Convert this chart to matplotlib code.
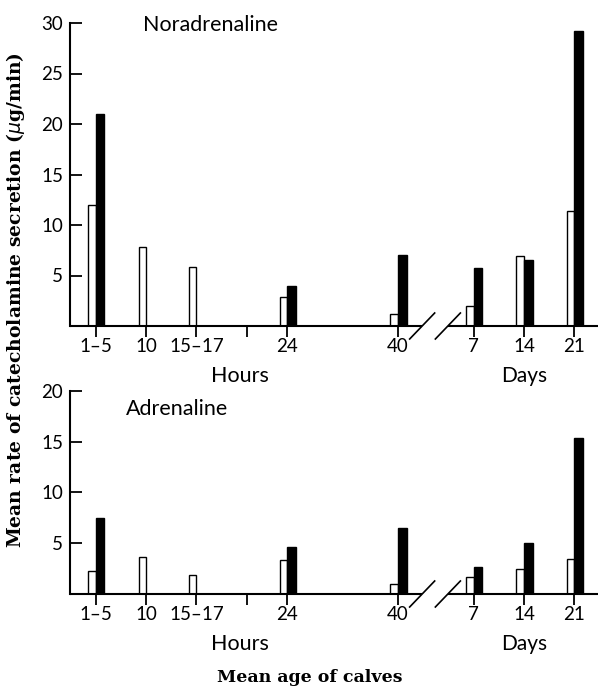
import numpy as np
import matplotlib
matplotlib.use("Agg")
import matplotlib.pyplot as plt

# %% data
age_labels = ["1–5", "10", "15–17", "", "24", "40", "7", "14", "21"]
# slot of each age along the (non-linear) age axis
age_slots = [0, 1, 2, 3, 3.8, 6, 7.5, 8.5, 9.5]

nor_open = [12.0, 7.8, 5.8, np.nan, 2.9, 1.2, 2.0, 6.9, 11.4]
nor_filled = [21.0, np.nan, np.nan, np.nan, 4.0, 7.0, 5.7, 6.5, 29.2]
adr_open = [2.3, 3.6, 1.9, np.nan, 3.3, 1.0, 1.7, 2.5, 3.4]
adr_filled = [7.5, np.nan, np.nan, np.nan, 4.6, 6.5, 2.7, 5.0, 15.3]

# %% style
sans = ["Lato", "DejaVu Sans"]
serif = ["DejaVu Serif"]
plt.rcParams["font.family"] = sans
plt.rcParams["font.size"] = 13.5

fig_w, fig_h = 601, 687
fig = plt.figure(figsize=(fig_w / 100, fig_h / 100), dpi=100)

xlim = (-0.51, 9.97)
break_at = (6.48, 6.99)


def draw_panel(rect, open_vals, filled_vals, ymax, title, title_xy):
    ax = fig.add_axes(rect)
    ax.set_xlim(*xlim)
    ax.set_ylim(0, ymax)

    for x, o, f in zip(age_slots, open_vals, filled_vals):
        if not np.isnan(o):
            ax.bar(x, o, width=-0.15, align="edge", color="white",
                   edgecolor="black", linewidth=1.0, zorder=3)
        if not np.isnan(f):
            ax.bar(x, f, width=0.17, align="edge", color="black",
                   edgecolor="black", linewidth=1.0, zorder=3)

    for s in ["top", "right", "bottom"]:
        ax.spines[s].set_visible(False)
    ax.spines["left"].set_linewidth(1.5)

    # baseline with a gap for the hours / days break
    ax.plot([xlim[0], break_at[0]], [0, 0], color="black", lw=1.5,
            clip_on=False, zorder=4, solid_capstyle="butt")
    ax.plot([break_at[1], xlim[1]], [0, 0], color="black", lw=1.5,
            clip_on=False, zorder=4, solid_capstyle="butt")
    px_per_unit = rect[3] * fig_h / ymax
    dy = 13 / px_per_unit
    dx = 12.5 / (rect[2] * fig_w / (xlim[1] - xlim[0]))
    for xc in break_at:
        ax.plot([xc - dx, xc + dx], [-dy, dy], color="black", lw=1.2,
                clip_on=False, zorder=4)

    ax.set_xticks(age_slots)
    ax.set_xticklabels(age_labels)
    ax.tick_params(axis="x", direction="out", length=8, width=1.3, pad=1)
    ax.set_yticks(np.arange(5, ymax + 1, 5))
    ax.tick_params(axis="y", direction="in", length=8.5, width=1.3, pad=5)

    ax.text(title_xy[0], title_xy[1], title, ha="left", va="center", fontsize=15.5)
    ax.annotate("Hours", xy=(2.86, 0), xytext=(0, -36), textcoords="offset points",
                ha="center", va="center", fontsize=15.5)
    ax.annotate("Days", xy=(8.5, 0), xytext=(0, -36), textcoords="offset points",
                ha="center", va="center", fontsize=15)
    return ax


ax1 = draw_panel([70 / fig_w, (fig_h - 326) / fig_h, 528 / fig_w, 303 / fig_h],
                 nor_open, nor_filled, 30, "Noradrenaline", (0.94, 29.85))
ax2 = draw_panel([70 / fig_w, (fig_h - 594) / fig_h, 528 / fig_w, 203.3 / fig_h],
                 adr_open, adr_filled, 20, "Adrenaline", (0.60, 18.2))

fig.text(16 / fig_w, (fig_h - 300) / fig_h,
         "Mean rate of catecholamine secretion ($\\mu$g/min)",
         rotation=90, ha="center", va="center", family=serif,
         fontweight="bold", fontsize=13.5)
fig.text(310 / fig_w, (fig_h - 678) / fig_h, "Mean age of calves",
         ha="center", va="center", family=serif, fontweight="bold", fontsize=12.5)

fig.savefig("out.png", dpi=100)
